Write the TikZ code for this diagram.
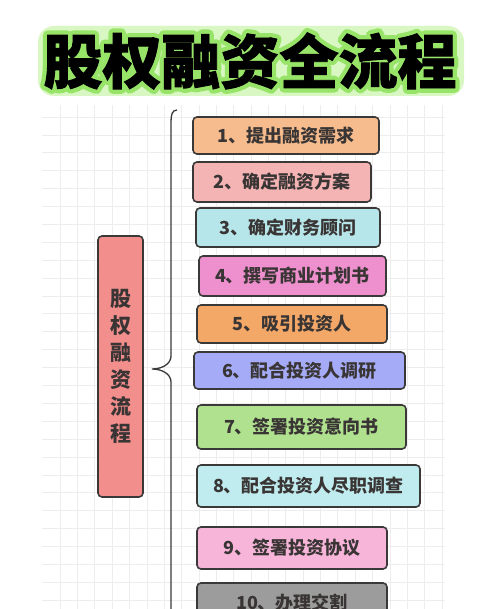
\documentclass[tikz,border=0pt]{standalone}
\usepackage{fontspec}
\setmainfont{Noto Sans CJK SC}
\newfontfamily\glowfont{Noto Sans CJK SC}[FakeBold=16]
\newfontfamily\titlefont{Noto Sans CJK SC}[FakeBold=1.5]

\definecolor{boxline}{HTML}{3B3838}
\definecolor{txt}{HTML}{3A3535}
\definecolor{glowlight}{HTML}{D8F7C2}
\definecolor{glowgreen}{HTML}{98E468}
\definecolor{cone}{HTML}{F7BC8D}
\definecolor{ctwo}{HTML}{F5B4B4}
\definecolor{cthree}{HTML}{B7E6EA}
\definecolor{cfour}{HTML}{EE90CD}
\definecolor{cfive}{HTML}{F4A868}
\definecolor{csix}{HTML}{A5ABF6}
\definecolor{cseven}{HTML}{B0E18F}
\definecolor{ceight}{HTML}{C0ECEF}
\definecolor{cnine}{HTML}{F6B5D9}
\definecolor{cten}{HTML}{9C9C9C}
\definecolor{cside}{HTML}{F28E8C}

\begin{document}
\begin{tikzpicture}[x=1pt,y=-1pt,
    gridline/.style={draw=black!7,line width=0.6pt},
    stepbox/.style={draw=boxline,line width=1.6pt,rounded corners=4pt,inner sep=0pt,
      text=txt,font=\bfseries\fontsize{18}{18}\selectfont},
    sidebox/.style={stepbox,fill=cside,align=center,
      font=\bfseries\fontsize{21}{27}\selectfont}]

    % Page
    \useasboundingbox (0,0) rectangle (500,609);
    \fill[white] (0,0) rectangle (500,609);

    % Grid
    \foreach \i in {0,...,22}
        \draw[gridline] ({60+17.36*\i},105) -- ({60+17.36*\i},609);
    \foreach \j in {0,...,27}
        \draw[gridline] (42,{117+17.89*\j}) -- (445,{117+17.89*\j});

    % Title with green glow
    \fill[glowlight,rounded corners=16pt] (38,26) rectangle (464,96);
    \node[line join=round,text=glowgreen,font=\glowfont\bfseries\fontsize{59}{59}\selectfont] (glow) at (250,61) {股权融资全流程};
    \node[text=black,font=\titlefont\bfseries\fontsize{59}{59}\selectfont] (title) at (250,61) {股权融资全流程};

    % Left box
    \node[sidebox,minimum width=45pt,minimum height=261pt] (side) at (120.5,366.5) {股\\权\\融\\资\\流\\程};

    % Steps
    \node[stepbox,fill=cone,minimum width=186pt,minimum height=37pt] (s1) at (286,135.5) {1、提出融资需求};
    \node[stepbox,fill=ctwo,minimum width=178pt,minimum height=40pt] (s2) at (282,182) {2、确定融资方案};
    \node[stepbox,fill=cthree,minimum width=184pt,minimum height=39pt] (s3) at (288,227.5) {3、确定财务顾问};
    \node[stepbox,fill=cfour,minimum width=187pt,minimum height=40pt] (s4) at (292.5,276) {4、撰写商业计划书};
    \node[stepbox,fill=cfive,minimum width=190pt,minimum height=38pt] (s5) at (292,324) {5、吸引投资人};
    \node[stepbox,fill=csix,minimum width=211pt,minimum height=37pt] (s6) at (299.5,370.5) {6、配合投资人调研};
    \node[stepbox,fill=cseven,minimum width=209pt,minimum height=44pt] (s7) at (301.5,427) {7、签署投资意向书};
    \node[stepbox,fill=ceight,minimum width=223pt,minimum height=42pt] (s8) at (308.5,486) {8、配合投资人尽职调查};
    \node[stepbox,fill=cnine,minimum width=190pt,minimum height=42pt] (s9) at (292,548) {9、签署投资协议};
    \node[stepbox,fill=cten,minimum width=190pt,minimum height=40pt] (s10) at (292,603) {10、办理交割};

    % Brace
    \coordinate (tip) at (152,369);
    \draw[boxline,line width=1.3pt] (177,110) .. controls (172,110) and (171,115) .. (171,122)
        -- (171,356) .. controls (171,364) and (162,369) .. (tip)
        .. controls (162,369) and (171,374) .. (171,382) -- (171,615);
\end{tikzpicture}
\end{document}
